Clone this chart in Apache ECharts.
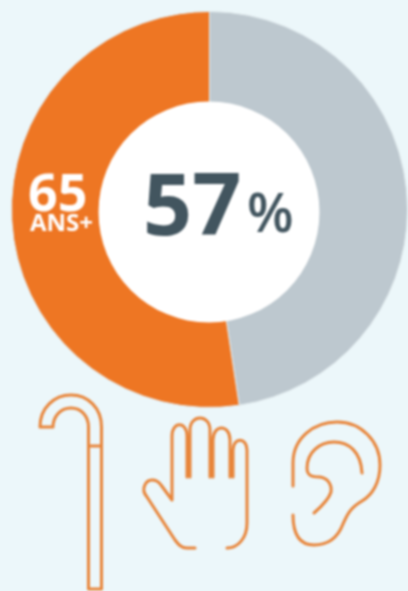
<!DOCTYPE html>
<html>
<head>
<meta charset="utf-8">
<style>
  html, body { margin: 0; padding: 0; background: #ecf7fa; }
  #main { width: 408px; height: 591px; filter: blur(0.8px); }
</style>
<script src="https://cdn.jsdelivr.net/npm/echarts@6/dist/echarts.min.js"></script>
</head>
<body>
<div id="main"></div>
<script>
// parts as drawn in the picture (the ring is not cut at the printed 57)
const sliceNames = ["Autres", "65 ans +"];
const sliceValues = [47.6, 52.4];
const sliceColors = ["#bdc8cf", "#ee7623"];

const iconColor = "#e8853a";
const canePath = "M40 427 H53 C53 417 60 408 71 408 C82 408 88.5 417 88.5 427 V589 H101.5 V427 C101.5 408 88 395 71 395 C54 395 40 408 40 427 Z M88.5 446 H101.5";
const handPath = "M195 548 H187 C181 548 178 544 175 540 L147 497 C140 489 146 480 152 480 C156 480 159 482 161 485 L172 500 V436 C172 421 187 421 187 436 V477 " +
  "M190 477 V430 C190 414 210 414 210 430 V477 M213 477 V440 C213 424 230 424 230 440 V477 M233 477 V450 C233 437 247 437 247 450 V523 C247 538 238 548 227 548";
const earPath = "M293 486 V463 C293 438 314 422 337 422 C361 422 380 441 380 465 C380 483 372 495 362 501 C350 508 347 515 343 524 C338 537 328 545 314 545 C301 545 293 536 293 515 " +
  "M362 473 C361 452 349 442 334 442 C319 442 307 453 307 468 C307 476 312 477 320 477 C328 478 332 485 331 492 C329 499 322 506 314 513";

echarts.graphic.registerShape("cane", echarts.graphic.extendPath(canePath, {}));
echarts.graphic.registerShape("hand", echarts.graphic.extendPath(handPath, {}));
echarts.graphic.registerShape("ear", echarts.graphic.extendPath(earPath, {}));

const chart = echarts.init(document.getElementById("main"));

function icon(name) {
  return {
    type: name,
    silent: true,
    z: 20,
    style: { fill: "none", stroke: iconColor, lineWidth: 3, lineCap: "round", lineJoin: "round" }
  };
}

// y is the top of the text box
function label(text, x, y, font, fill) {
  return { type: "text", silent: true, z: 30, style: { text, x, y, font, fill } };
}

chart.setOption({
  backgroundColor: "#ecf7fa",
  animation: false,
  series: [
    {
      type: "pie",
      silent: true,
      center: [209.5, 209.5],
      radius: [100, 198],
      startAngle: 90,
      label: { show: false },
      labelLine: { show: false },
      itemStyle: { borderColor: "#e4edf0", borderWidth: 1 },
      data: sliceNames.map((n, i) => ({ name: n, value: sliceValues[i], itemStyle: { color: sliceColors[i] } }))
    }
  ],
  graphic: [
    { type: "circle", silent: true, z: 10, shape: { cx: 209, cy: 212, r: 110.5 }, style: { fill: "#ffffff" } },
    label("57", 143, 167, "bold 86px 'Open Sans'", "#42555f"),
    label("%", 247, 190, "600 54px 'Open Sans'", "#42555f"),
    label("65", 28, 170, "bold 52px 'Open Sans'", "#ffffff"),
    label("ANS+", 30, 212, "bold 24px 'Open Sans'", "#ffffff"),
    icon("cane"),
    icon("hand"),
    icon("ear")
  ]
});
</script>
</body>
</html>
